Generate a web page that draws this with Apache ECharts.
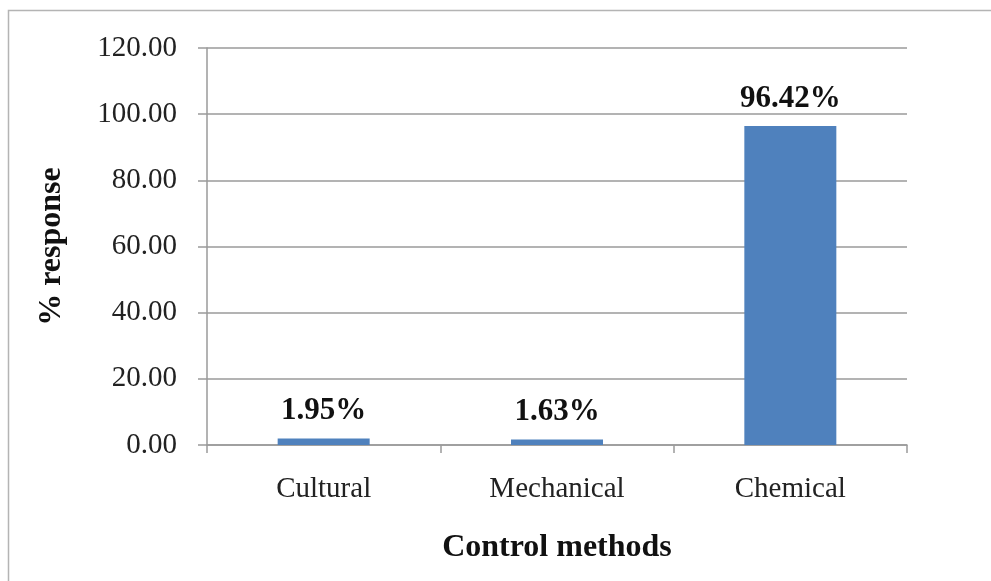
<!DOCTYPE html>
<html>
<head>
<meta charset="utf-8">
<script src="https://cdn.jsdelivr.net/npm/echarts@6/dist/echarts.min.js"></script>
<style>
  html, body { margin: 0; padding: 0; background: #fff; }
  #chart { width: 991px; height: 581px; }
</style>
</head>
<body>
<div id="chart"></div>
<script>
// Survey response share for each pest control method
const categories = ['Cultural', 'Mechanical', 'Chemical'];
const responses = [1.95, 1.63, 96.42];
const yTicks = { min: 0, max: 120, interval: 20 };

const serif = "'Liberation Serif', 'Times New Roman', serif";
const chart = echarts.init(document.getElementById('chart'));

chart.setOption({
  backgroundColor: '#ffffff',
  animation: false,
  graphic: [{
    type: 'rect',
    shape: { x: 8.5, y: 10.5, width: 1000, height: 620 },
    style: { fill: 'none', stroke: '#b4b4b4', lineWidth: 1.5 },
    silent: true
  }],
  grid: { left: 207, right: 84, top: 48, bottom: 136 },
  xAxis: {
    type: 'category',
    data: categories,
    boundaryGap: true,
    name: 'Control methods',
    nameLocation: 'middle',
    nameGap: 87,
    nameTextStyle: { fontFamily: serif, fontWeight: 'bold', fontSize: 32, color: '#111' },
    axisLine: { show: true, lineStyle: { color: '#9a9a9a', width: 1.5 } },
    axisTick: { show: true, alignWithLabel: false, length: 8, lineStyle: { color: '#9a9a9a', width: 1.5 } },
    axisLabel: { fontFamily: serif, fontSize: 29, color: '#222', margin: 30 }
  },
  yAxis: {
    type: 'value',
    min: yTicks.min,
    max: yTicks.max,
    interval: yTicks.interval,
    name: '% response',
    nameLocation: 'middle',
    nameGap: 139,
    nameRotate: 90,
    nameTextStyle: { fontFamily: serif, fontWeight: 'bold', fontSize: 32, color: '#111' },
    axisLine: { show: true, lineStyle: { color: '#9a9a9a', width: 1.5 } },
    axisTick: { show: true, length: 9, lineStyle: { color: '#9a9a9a', width: 1.5 } },
    splitLine: { show: true, lineStyle: { color: '#9a9a9a', width: 1.5 } },
    axisLabel: {
      fontFamily: serif, fontSize: 29, color: '#222', margin: 30,
      formatter: v => v.toFixed(2)
    }
  },
  series: [{
    type: 'bar',
    data: responses,
    barWidth: 92,
    itemStyle: { color: '#4f81bd' },
    label: {
      show: true,
      position: 'top',
      distance: 12,
      fontFamily: serif,
      fontWeight: 'bold',
      fontSize: 31,
      color: '#111',
      formatter: p => p.value.toFixed(2) + '%'
    }
  }]
});
</script>
</body>
</html>
